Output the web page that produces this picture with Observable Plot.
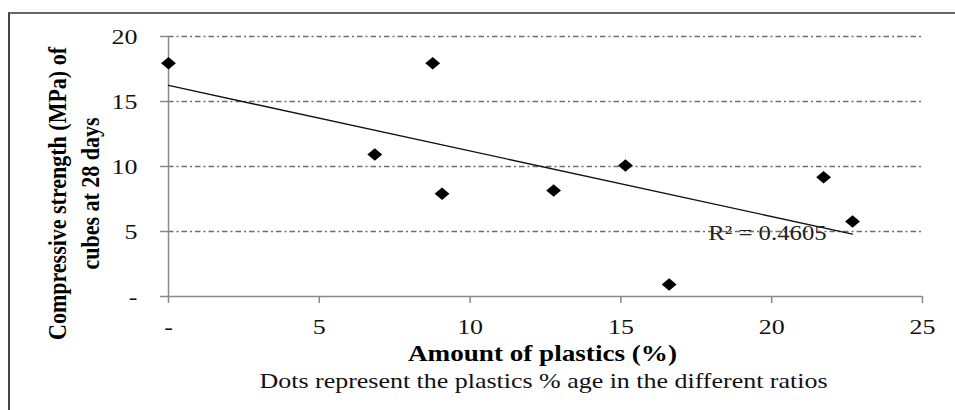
<!DOCTYPE html>
<html>
<head>
<meta charset="utf-8">
<script src="https://cdn.jsdelivr.net/npm/d3@7"></script>
<script src="https://cdn.jsdelivr.net/npm/@observablehq/plot@0.6"></script>
<style>
  html, body { margin: 0; padding: 0; background: #fff; }
  #wrap { position: relative; width: 955px; height: 410px; overflow: hidden; }
  #border { position: absolute; left: 8px; top: 12px; width: 1000px; height: 500px;
            border-left: 2px solid #444; border-top: 2px solid #666; pointer-events: none; }
</style>
</head>
<body>
<div id="wrap"><div id="border"></div></div>
<script>
// Data
const plasticsPct = [0, 6.84, 8.76, 9.07, 12.77, 15.15, 16.6, 21.72, 22.68];
const strength    = [17.95, 10.92, 17.95, 7.9, 8.15, 10.08, 0.92, 9.18, 5.77];
const xTicks = [0, 5, 10, 15, 20, 25];
const yTicks = [0, 5, 10, 15, 20];
const gridValues = [5, 10, 15, 20];
const xLabel = "Amount of plastics (%)";
const yLabel = "Compressive strength (MPa) of\ncubes at 28 days";
const captionText = "Dots represent the plastics % age in the different ratios";
const r2Text = "R² = 0.4605";

const data = plasticsPct.map((x, i) => ({x, y: strength[i]}));
const fmt = d => d === 0 ? "-" : String(d);
const serif = "'Liberation Serif', 'Times New Roman', serif";
const axisGray = "#8a8a8a";
const stretch = 1.18; // the reference's text is horizontally stretched

const wideDiamond = {
  draw(ctx, size) {
    const s = Math.sqrt(size / Math.PI);
    ctx.moveTo(0, -s * 1.1);
    ctx.lineTo(s * 1.3, 0);
    ctx.lineTo(0, s * 1.1);
    ctx.lineTo(-s * 1.3, 0);
    ctx.closePath();
  }
};

const chart = Plot.plot({
  width: 955,
  height: 410,
  marginLeft: 168,
  marginRight: 33,
  marginTop: 36,
  marginBottom: 114,
  style: {fontFamily: serif, fontSize: "22px", color: "#111", background: "transparent", overflow: "visible"},
  x: {domain: [0, 25], ticks: xTicks, tickFormat: fmt},
  y: {domain: [0, 20], ticks: yTicks, tickFormat: fmt},
  marks: [
    Plot.gridY(gridValues, {stroke: "#6e6e6e", strokeOpacity: 1, strokeWidth: 1.7, strokeDasharray: "5.5,3,2,3"}),
    Plot.axisY({ticks: yTicks, tickFormat: fmt, tickSize: 8, tickPadding: 23, stroke: axisGray, strokeWidth: 1.5, label: null, fontSize: 22}),
    Plot.axisX({ticks: xTicks, tickFormat: fmt, tickSize: 7, tickPadding: 15, stroke: axisGray, strokeWidth: 1.5, label: null, fontSize: 22}),
    Plot.ruleY([0], {stroke: axisGray, strokeWidth: 1.5}),
    Plot.ruleX([0], {stroke: axisGray, strokeWidth: 1.5}),
    Plot.linearRegressionY(data, {x: "x", y: "y", ci: 0, stroke: "#111", strokeWidth: 1.3}),
    Plot.dot(data, {x: "x", y: "y", symbol: wideDiamond, r: 5.7, fill: "#000", stroke: "none"}),
    Plot.text([r2Text], {text: d => d, frameAnchor: "bottom-right", dx: -155, dy: -57, textAnchor: "middle", fontSize: 21, fill: "#222"}),
    Plot.text([xLabel], {text: d => d, frameAnchor: "bottom", dx: -3, dy: 64, fontWeight: "bold", fontSize: 23, fill: "#000"}),
    Plot.text([captionText], {text: d => d, frameAnchor: "bottom", dx: -2, dy: 91, fontSize: 22, fill: "#111"}),
    Plot.text([yLabel], {text: d => d, frameAnchor: "left", textAnchor: "middle", rotate: -90, dx: -97, dy: 27, lineHeight: 1.27, fontWeight: "bold", fontSize: 22, fill: "#000"})
  ]
});

// Apply the horizontal stretch seen in the reference to every text
d3.select(chart).selectAll("text").each(function() {
  const t = this.getAttribute("transform") || "";
  const m = t.match(/^(translate\([^)]*\))\s*(.*)$/);
  if (m) this.setAttribute("transform", `${m[1]} scale(${stretch},1) ${m[2]}`);
  else this.setAttribute("transform", `${t} scale(${stretch},1)`);
});

document.getElementById("wrap").prepend(chart);
</script>
</body>
</html>
